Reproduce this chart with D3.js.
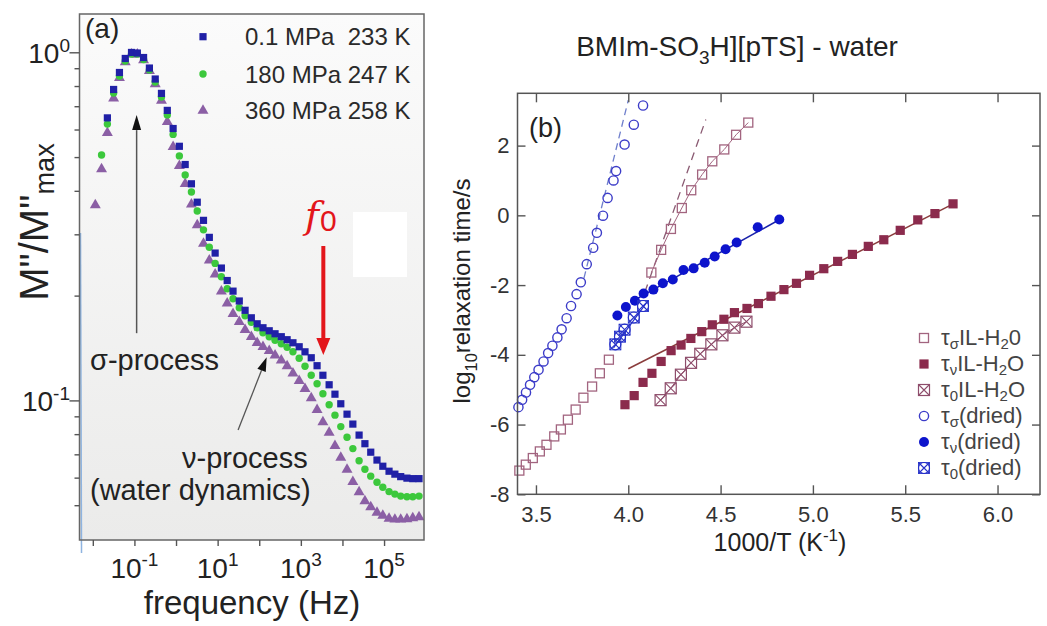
<!DOCTYPE html>
<html>
<head>
<meta charset="utf-8">
<script src="https://cdn.jsdelivr.net/npm/d3@7"></script>
<style>
html,body{margin:0;padding:0;background:#fff;}
svg text{font-family:"Liberation Sans",Arial,Helvetica,sans-serif;}
</style>
</head>
<body>
<svg id="chart" width="1047" height="626"></svg>
<script>
// ================= Panel (a) data =================
const logFreq = [-1.94,-1.79,-1.65,-1.50,-1.36,-1.22,-1.07,-0.93,-0.78,-0.64,-0.50,-0.35,-0.21,-0.07,0.08,0.22,0.37,0.51,0.66,0.80,0.94,1.09,1.23,1.37,1.52,1.66,1.81,1.95,2.09,2.24,2.38,2.53,2.67,2.81,2.96,3.10,3.25,3.39,3.53,3.68,3.82,3.96,4.11,4.25,4.40,4.54,4.68,4.83,4.97,5.12,5.26,5.40,5.55,5.69,5.84];
const mBlue = [null,null,0.648,0.782,0.875,0.960,0.999,0.995,0.966,0.901,0.838,0.762,0.681,0.604,0.537,0.476,0.419,0.371,0.329,0.294,0.265,0.240,0.221,0.206,0.193,0.1815,0.1727,0.166,0.1617,0.1585,0.1554,0.1524,0.1494,0.1464,0.1426,0.1379,0.1326,0.1258,0.1181,0.1109,0.1042,0.0978,0.0913,0.0855,0.0795,0.0751,0.0710,0.0674,0.0647,0.0626,0.0614,0.0604,0.0598,0.0596,0.0596];
const mGreen = [null,0.507,0.622,0.764,0.855,0.944,0.989,0.989,0.953,0.890,0.822,0.744,0.661,0.581,0.504,0.444,0.397,0.350,0.309,0.2753,0.2475,0.2265,0.2092,0.1958,0.1845,0.1750,0.1677,0.1617,0.1564,0.1523,0.1489,0.1454,0.1421,0.1379,0.1322,0.1254,0.1181,0.1116,0.1045,0.0972,0.0907,0.0841,0.0784,0.0727,0.0671,0.0634,0.0606,0.0582,0.0563,0.0547,0.0538,0.0531,0.0529,0.0529,0.0531];
const mPurple = [0.364,0.462,0.587,0.737,0.844,0.938,0.986,0.986,0.950,0.884,0.811,0.727,0.631,0.535,0.472,0.419,0.366,0.319,0.282,0.2526,0.2303,0.2058,0.1901,0.1773,0.1682,0.1596,0.1523,0.1464,0.1426,0.1389,0.1348,0.1304,0.1254,0.1197,0.1139,0.1080,0.1015,0.0940,0.0866,0.0808,0.0741,0.0685,0.0633,0.0584,0.0545,0.0514,0.0494,0.0476,0.0467,0.0458,0.0455,0.0455,0.0456,0.0459,0.0462];
const legendA = ["0.1 MPa  233 K", "180 MPa 247 K", "360 MPa 258 K"];
const xDecadesA = [-2,-1,0,1,2,3,4,5];
const xLabelDecadesA = [-1,1,3,5];
const yMajorA = [0,-1];
const yMinorA = [0.05,0.06,0.07,0.08,0.09,0.2,0.3,0.4,0.5,0.6,0.7,0.8,0.9];

// ================= Panel (b) data =================
const sigIL_x = [3.41,3.445,3.483,3.521,3.557,3.599,3.635,3.673,3.715,3.757,3.804,3.846,3.895,4.125,4.178,4.231,4.29,4.341,4.40,4.455,4.52,4.584,4.65];
const sigIL_y = [-7.32,-7.15,-6.96,-6.77,-6.58,-6.34,-6.14,-5.86,-5.57,-5.23,-4.91,-4.53,-4.14,-1.64,-0.99,-0.39,0.21,0.72,1.17,1.55,1.89,2.31,2.66];
const nuIL_x = [3.982,4.032,4.08,4.128,4.178,4.232,4.286,4.339,4.398,4.455,4.518,4.575,4.643,4.705,4.773,4.843,4.911,4.982,5.059,5.134,5.214,5.30,5.384,5.473,5.568,5.661,5.759];
const nuIL_y = [-5.43,-5.17,-4.79,-4.53,-4.19,-3.88,-3.72,-3.53,-3.335,-3.14,-2.98,-2.79,-2.67,-2.53,-2.32,-2.13,-1.95,-1.72,-1.53,-1.32,-1.12,-0.89,-0.70,-0.43,-0.13,0.05,0.33];
const zeroIL_x = [4.175,4.23,4.285,4.34,4.39,4.45,4.51,4.575,4.64];
const zeroIL_y = [-5.30,-4.96,-4.57,-4.23,-3.97,-3.70,-3.44,-3.22,-3.05];
const sigDry_x = [3.405,3.425,3.446,3.468,3.491,3.514,3.541,3.566,3.589,3.616,3.639,3.666,3.69,3.72,3.743,3.775,3.81,3.83,3.863,3.888,3.92,3.934,3.98,4.03,4.08];
const sigDry_y = [-5.50,-5.29,-5.08,-4.86,-4.64,-4.43,-4.19,-3.95,-3.74,-3.50,-3.27,-2.95,-2.60,-2.26,-1.92,-1.40,-0.93,-0.50,-0.01,0.50,1.00,1.27,2.03,2.60,3.15];
const nuDry_x = [3.941,3.987,4.036,4.083,4.136,4.187,4.241,4.299,4.354,4.414,4.468,4.527,4.587,4.701,4.818];
const nuDry_y = [-2.87,-2.63,-2.45,-2.24,-2.13,-1.95,-1.84,-1.57,-1.52,-1.36,-1.18,-0.97,-0.78,-0.34,-0.12];
const zeroDry_x = [3.93,3.955,3.98,4.03,4.08];
const zeroDry_y = [-3.70,-3.48,-3.28,-2.93,-2.60];
const fitNuIL = [[4.0,-4.4],[5.76,0.33]];
const fitNuDry = [[4.05,-2.38],[4.82,-0.12]];
const fitZeroDry = [[3.92,-3.8],[4.10,-2.5]];
const dashSigDry = [[3.76,-1.8],[4.0,3.3]];
const dashSigIL = [[4.09,-2.2],[4.42,2.75]];
const xTicksB = [3.5,4.0,4.5,5.0,5.5,6.0];
const yTicksB = [-8,-6,-4,-2,0,2];
const legendB = [
  [["τ"],["σ","sub"],["IL-H"],["2","sub"],["0"]],
  [["τ"],["ν","sub"],["IL-H"],["2","sub"],["O"]],
  [["τ"],["0","sub"],["IL-H"],["2","sub"],["O"]],
  [["τ"],["σ","sub"],["(dried)"]],
  [["τ"],["ν","sub"],["(dried)"]],
  [["τ"],["0","sub"],["(dried)"]]
];
const legendBTypes = ["sqOpen","sqFill","sqCross","cirOpen","cirFill","cirCross"];

// ================= helpers =================
const svg = d3.select("#chart");
function rich(sel, parts, fs, subK) {
  const sk = subK || 0.3;
  let cur = 0;
  parts.forEach(p => {
    const txt = p[0], kind = p[1];
    let target = 0, size = fs;
    if (kind === "sub") { target = sk * fs; size = 0.68 * fs; }
    if (kind === "sup") { target = -0.42 * fs; size = 0.68 * fs; }
    sel.append("tspan").attr("dy", target - cur).attr("font-size", size).text(txt);
    cur = target;
  });
  return sel;
}
function arrow(g, x1, y1, x2, y2, color, w, hl, hw, headColor) {
  const ang = Math.atan2(y2 - y1, x2 - x1);
  const bx = x2 - hl * Math.cos(ang), by = y2 - hl * Math.sin(ang);
  g.append("line").attr("x1", x1).attr("y1", y1).attr("x2", bx).attr("y2", by)
    .attr("stroke", color).attr("stroke-width", w);
  const px = -Math.sin(ang) * hw / 2, py = Math.cos(ang) * hw / 2;
  g.append("path").attr("d", `M${x2},${y2}L${bx + px},${by + py}L${bx - px},${by - py}Z`).attr("fill", headColor || color);
}

// ================= Panel (a) =================
const COL = {blue:"#2020a6", green:"#3cc83c", purple:"#8b5fa5"};
const xa = d3.scaleLog().domain([Math.pow(10,-2.32), Math.pow(10,5.96)]).range([79.5,424]);
const ya = d3.scaleLog().domain([Math.pow(10,-1.401), Math.pow(10,0.11)]).range([540,14]);
const defs = svg.append("defs");
const grad = defs.append("linearGradient").attr("id","bgA").attr("x1",0).attr("y1",0).attr("x2",0).attr("y2",1);
grad.append("stop").attr("offset","0%").attr("stop-color","#fbfbfb");
grad.append("stop").attr("offset","100%").attr("stop-color","#ebebea");

const gA = svg.append("g");
gA.append("rect").attr("x",79.5).attr("y",14).attr("width",344.5).attr("height",526).attr("fill","url(#bgA)");
gA.append("rect").attr("x",353).attr("y",212).attr("width",54).attr("height",65).attr("fill","#ffffff");

function ptsA(arr){ return logFreq.map((lf,i)=>({f:Math.pow(10,lf), m:arr[i]})).filter(d=>d.m!=null); }
gA.append("g").selectAll("path").data(ptsA(mPurple)).join("path")
  .attr("transform", d=>`translate(${xa(d.f)},${ya(d.m)})`)
  .attr("d", d3.symbol(d3.symbolTriangle, 52)).attr("fill", COL.purple);
gA.append("g").selectAll("circle").data(ptsA(mGreen)).join("circle")
  .attr("cx", d=>xa(d.f)).attr("cy", d=>ya(d.m)).attr("r",3.7).attr("fill", COL.green);
gA.append("g").selectAll("rect").data(ptsA(mBlue)).join("rect")
  .attr("x", d=>xa(d.f)-3.6).attr("y", d=>ya(d.m)-3.6).attr("width",7.2).attr("height",7.2).attr("fill", COL.blue);

// frame and axes
gA.append("line").attr("x1",80.5).attr("y1",233).attr("x2",81.5).attr("y2",553).attr("stroke","#8fb4e0").attr("stroke-width",1.5);
gA.append("rect").attr("x",79.5).attr("y",14).attr("width",344.5).attr("height",526).attr("fill","none").attr("stroke","#666").attr("stroke-width",1.5);
const axYmaj = gA.append("g").attr("transform","translate(79.5,0)")
  .call(d3.axisLeft(ya).tickValues(yMajorA.map(e=>Math.pow(10,e))).tickSize(10).tickFormat(""));
const axYmin = gA.append("g").attr("transform","translate(79.5,0)")
  .call(d3.axisLeft(ya).tickValues(yMinorA).tickSize(5).tickFormat(""));
const axX = gA.append("g").attr("transform","translate(0,540)")
  .call(d3.axisBottom(xa).tickValues(xDecadesA.map(e=>Math.pow(10,e))).tickSize(6).tickFormat(""));
[axYmaj, axYmin, axX].forEach(a => { a.select(".domain").remove(); a.selectAll(".tick line").attr("stroke","#555").attr("stroke-width",1.4); });

yMajorA.forEach(e => {
  rich(gA.append("text").attr("x",70).attr("y", ya(Math.pow(10,e))+11).attr("text-anchor","end").attr("fill","#222"),
    [["10"],[String(e),"sup"]], 28);
});
xLabelDecadesA.forEach(e => {
  rich(gA.append("text").attr("x", xa(Math.pow(10,e))).attr("y",578).attr("text-anchor","middle").attr("fill","#222"),
    [["10"],[String(e),"sup"]], 28);
});
gA.append("text").attr("x",252).attr("y",614).attr("text-anchor","middle").attr("font-size",33).attr("fill","#222").text("frequency (Hz)");
rich(gA.append("text").attr("transform","translate(48,222) rotate(-90)").attr("text-anchor","middle").attr("fill","#222"),
  [['M"/M"'],["max","sub"]], 40, 0.15);
gA.append("text").attr("x",85).attr("y",38).attr("font-size",28).attr("fill","#222").text("(a)");

// legend (a)
const legRowsA = [36.7, 74, 110.7];
const legA = gA.append("g");
legA.append("rect").attr("x",203-3.6).attr("y",legRowsA[0]-3.6).attr("width",7.2).attr("height",7.2).attr("fill",COL.blue);
legA.append("circle").attr("cx",203).attr("cy",legRowsA[1]).attr("r",3.7).attr("fill",COL.green);
legA.append("path").attr("transform",`translate(203,${legRowsA[2]})`).attr("d",d3.symbol(d3.symbolTriangle,52)).attr("fill",COL.purple);
legendA.forEach((t,i)=>{
  legA.append("text").attr("x",245).attr("y",legRowsA[i]+8.5).attr("font-size",24).attr("fill","#2a2a2a").style("white-space","pre").text(t);
});

// annotations (a)
arrow(gA, xa(0.113), ya(0.156), xa(0.113), ya(0.66), "#555", 1.5, 15, 9, "#111");
gA.append("text").attr("x",90).attr("y",370).attr("font-size",29).attr("fill","#222").text("σ-process");
arrow(gA, xa(31), ya(0.0822), xa(151), ya(0.133), "#555", 1.3, 14, 9, "#111");
gA.append("text").attr("x",182).attr("y",468).attr("font-size",29).attr("fill","#222").text("ν-process");
gA.append("text").attr("x",90).attr("y",500).attr("font-size",29).attr("fill","#222").text("(water dynamics)");
arrow(gA, xa(3470), ya(0.2777), xa(3470), ya(0.135), "#e3161b", 4, 17, 14);
const f0 = gA.append("text").attr("x",305).attr("y",228).attr("fill","#e3161b");
f0.append("tspan").attr("font-family","'DejaVu Serif','Liberation Serif',serif").attr("font-style","italic").attr("font-size",38).text("f");
f0.append("tspan").attr("font-size",30).attr("dy",3).attr("dx",1).text("0");

// ================= Panel (b) =================
const CB = {mauve:"#a2647f", maroon:"#8b2b4d", crossIL:"#8e4d6b", blueOpen:"#3c3cc8", blueFill:"#0d14cc", crossDry:"#2530c8",
            fitIL:"#8a3c3c", fitDry:"#1a22aa", dashDry:"#6f7fcc", dashIL:"#8a5a72"};
const xb = d3.scaleLinear().domain([3.4, 6.23]).range([517.5, 1040]);
const yb = d3.scaleLinear().domain([-8, 3.5]).range([494.3, 93.3]);
const gB = svg.append("g");
const lineB = d3.line().x(d=>xb(d[0])).y(d=>yb(d[1]));
function zipB(xs, ys){ return xs.map((x,i)=>[x, ys[i]]); }

gB.append("path").attr("d", lineB(dashSigDry)).attr("stroke",CB.dashDry).attr("stroke-width",1.3).attr("stroke-dasharray","7,5").attr("fill","none");
gB.append("path").attr("d", lineB(dashSigIL)).attr("stroke",CB.dashIL).attr("stroke-width",1.3).attr("stroke-dasharray","8,6").attr("fill","none");
gB.append("path").attr("d", lineB(zipB(sigIL_x, sigIL_y).filter(d=>d[0]>4.0))).attr("stroke",CB.mauve).attr("stroke-width",1).attr("fill","none");
gB.append("path").attr("d", lineB(zipB(zeroIL_x, zeroIL_y))).attr("stroke",CB.crossIL).attr("stroke-width",1).attr("fill","none");
gB.append("path").attr("d", lineB(fitNuIL)).attr("stroke",CB.fitIL).attr("stroke-width",1.5).attr("fill","none");
gB.append("path").attr("d", lineB(fitNuDry)).attr("stroke",CB.fitDry).attr("stroke-width",1.5).attr("fill","none");
gB.append("path").attr("d", lineB(fitZeroDry)).attr("stroke",CB.crossDry).attr("stroke-width",1.2).attr("fill","none");

function drawMarker(g, type) {
  if (type === "sqOpen") g.append("rect").attr("x",-4.5).attr("y",-4.5).attr("width",9).attr("height",9).attr("fill","none").attr("stroke",CB.mauve).attr("stroke-width",1.3);
  if (type === "sqFill") g.append("rect").attr("x",-4.6).attr("y",-4.6).attr("width",9.2).attr("height",9.2).attr("fill",CB.maroon);
  if (type === "sqCross") {
    g.append("rect").attr("x",-5.5).attr("y",-5.5).attr("width",11).attr("height",11).attr("fill","none").attr("stroke",CB.crossIL).attr("stroke-width",1.2);
    g.append("path").attr("d","M-5.5,-5.5L5.5,5.5M-5.5,5.5L5.5,-5.5").attr("stroke",CB.crossIL).attr("stroke-width",1.1);
  }
  if (type === "cirOpen") g.append("circle").attr("r",4.6).attr("fill","none").attr("stroke",CB.blueOpen).attr("stroke-width",1.4);
  if (type === "cirFill") g.append("circle").attr("r",5).attr("fill",CB.blueFill);
  if (type === "cirCross") {
    g.append("circle").attr("r",5.5).attr("fill","none").attr("stroke",CB.crossDry).attr("stroke-width",1.2);
    g.append("rect").attr("x",-5.5).attr("y",-5.5).attr("width",11).attr("height",11).attr("fill","none").attr("stroke",CB.crossDry).attr("stroke-width",0.9);
    g.append("path").attr("d","M-5.5,-5.5L5.5,5.5M-5.5,5.5L5.5,-5.5").attr("stroke",CB.crossDry).attr("stroke-width",1.1);
  }
}
function plotSeries(xs, ys, type) {
  gB.append("g").selectAll("g").data(zipB(xs, ys)).join("g")
    .attr("transform", d=>`translate(${xb(d[0])},${yb(d[1])})`)
    .each(function(){ drawMarker(d3.select(this), type); });
}
plotSeries(sigIL_x, sigIL_y, "sqOpen");
plotSeries(nuIL_x, nuIL_y, "sqFill");
plotSeries(zeroIL_x, zeroIL_y, "sqCross");
plotSeries(sigDry_x, sigDry_y, "cirOpen");
plotSeries(nuDry_x, nuDry_y, "cirFill");
plotSeries(zeroDry_x, zeroDry_y, "cirCross");

// frame + axes (b)
gB.append("rect").attr("x",517.5).attr("y",93.3).attr("width",522.5).attr("height",401).attr("fill","none").attr("stroke","#555").attr("stroke-width",1.5);
const axB = [
  gB.append("g").attr("transform","translate(0,494.3)").call(d3.axisBottom(xb).tickValues(xTicksB).tickSizeInner(-9).tickSizeOuter(0).tickPadding(12).tickFormat(d3.format(".1f"))),
  gB.append("g").attr("transform","translate(0,93.3)").call(d3.axisTop(xb).tickValues(xTicksB).tickSizeInner(-9).tickSizeOuter(0).tickFormat("")),
  gB.append("g").attr("transform","translate(517.5,0)").call(d3.axisLeft(yb).tickValues(yTicksB).tickSizeInner(-8).tickSizeOuter(0).tickPadding(8).tickFormat(d=>String(d))),
  gB.append("g").attr("transform","translate(1040,0)").call(d3.axisRight(yb).tickValues(yTicksB).tickSizeInner(-8).tickSizeOuter(0).tickFormat(""))
];
axB.forEach(a => {
  a.select(".domain").remove();
  a.attr("font-family", null).attr("font-size", 22);
  a.selectAll(".tick line").attr("stroke","#555").attr("stroke-width",1.4);
  a.selectAll(".tick text").attr("fill","#333");
});

// texts (b)
rich(gB.append("text").attr("x",737).attr("y",56).attr("text-anchor","middle").attr("fill","#222"),
  [["BMIm-SO"],["3","sub"],["H][pTS] - water"]], 28);
gB.append("text").attr("x",529).attr("y",137).attr("font-size",27).attr("fill","#222").text("(b)");
rich(gB.append("text").attr("x",780).attr("y",551).attr("text-anchor","middle").attr("fill","#222"),
  [["1000/T (K"],["-1","sup"],[")"]], 25);
rich(gB.append("text").attr("transform","translate(470,291) rotate(-90)").attr("text-anchor","middle").attr("fill","#222"),
  [["log"],["10","sub"],["relaxation time/s"]], 24);

// legend (b)
const legRowsB = [338, 364, 390, 416, 442, 468];
legendB.forEach((parts, i) => {
  const g = gB.append("g").attr("transform", `translate(924,${legRowsB[i]})`);
  drawMarker(g, legendBTypes[i]);
  rich(gB.append("text").attr("x",941).attr("y",legRowsB[i]+7).attr("fill","#444"), parts, 22, 0.2);
});
</script>
</body>
</html>
